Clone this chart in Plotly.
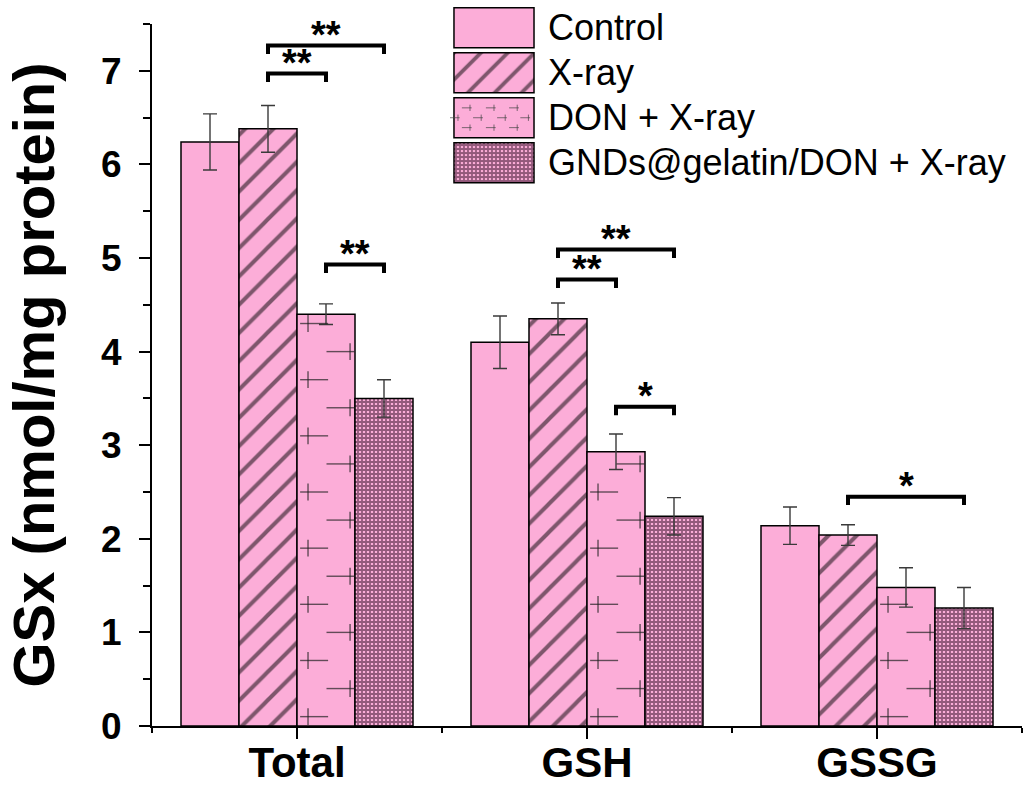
import plotly.graph_objects as go

# ---------------- data ----------------
categories = ["Total", "GSH", "GSSG"]
series_names = ["Control", "X-ray", "DON + X-ray", "GNDs@gelatin/DON + X-ray"]
control = [6.24, 4.10, 2.14]
control_err = [0.30, 0.28, 0.20]
xray = [6.38, 4.35, 2.04]
xray_err = [0.25, 0.17, 0.11]
don = [4.40, 2.93, 1.48]
don_err = [0.11, 0.19, 0.21]
gnds = [3.50, 2.24, 1.26]
gnds_err = [0.20, 0.20, 0.22]
y_ticks = [0, 1, 2, 3, 4, 5, 6, 7]
# significance: (category index, from series, to series, bracket level, label)
sig_brackets = [
    (0, 1, 3, 7.27, "**"), (0, 1, 2, 6.97, "**"), (0, 2, 3, 4.93, "**"),
    (1, 1, 3, 5.09, "**"), (1, 1, 2, 4.77, "**"), (1, 2, 3, 3.41, "*"),
    (2, 1, 3, 2.45, "*"),
]

values = [control, xray, don, gnds]
errors = [control_err, xray_err, don_err, gnds_err]

# ---------------- style ----------------
PINK = "#FCADD8"
DARK = "#2a061e"
FONT = "Arial, Liberation Sans, sans-serif"
BW = 0.2
patterns = [
    dict(shape="", fgcolor="black", bgcolor=PINK),
    dict(shape="/", size=20, solidity=0.2, fgcolor="black", bgcolor=PINK),
    dict(shape="", fgcolor="black", bgcolor=PINK),
    dict(shape="+", size=4, solidity=0.7, fgcolor=DARK, bgcolor=PINK),
]

def center(c, j):
    return c + (j - 1.5) * BW

fig = go.Figure()
xs = list(range(len(categories)))
for j, name in enumerate(series_names):
    fig.add_trace(go.Bar(
        x=xs, y=values[j], name=name, width=BW, offset=(j - 2) * BW,
        marker=dict(color=PINK, line=dict(color="black", width=1.5), pattern=patterns[j]),
        error_y=dict(type="data", array=errors[j], color="#3a3a3a", thickness=1.4, width=7),
        showlegend=False,
    ))

# cross decoration of the "DON + X-ray" bars (pattern not available natively)
cx, cy, cs, csize = [], [], [], []
for c, v in enumerate(don):
    bc = center(c, 2)
    k = 0
    while 0.1 + 0.3 * k <= v - 0.1:
        yy = 0.1 + 0.3 * k
        if k % 2 == 0:
            arm, tick = bc - 0.041, bc - 0.062
        else:
            arm, tick = bc + 0.050, bc + 0.083
        cx += [arm, tick]; cy += [yy, yy]
        cs += ["line-ew", "line-ns"]; csize += [20, 12]
        k += 1
fig.add_trace(go.Scatter(
    x=cx, y=cy, mode="markers", hoverinfo="skip", showlegend=False,
    marker=dict(symbol=cs, size=csize, color="#222", line=dict(color="#222", width=1.4)),
))

# significance brackets
DROP = 0.09
shapes, annotations = [], []
for c, a, b, lvl, lab in sig_brackets:
    x1, x2 = center(c, a), center(c, b)
    shapes.append(dict(type="path", xref="x", yref="y",
                       path=f"M{x1},{lvl - DROP} L{x1},{lvl} L{x2},{lvl} L{x2},{lvl - DROP}",
                       line=dict(color="black", width=4)))
    annotations.append(dict(x=(x1 + x2) / 2, y=lvl, xref="x", yref="y", text=lab,
                            showarrow=False, yanchor="bottom", yshift=-12,
                            font=dict(family=FONT, size=38, color="black", weight="bold")))

# ---------------- custom legend (swatches drawn as bars on a hidden subplot) ----------------
fig.add_trace(go.Bar(
    x=[1, 1, 1, 1], y=[0, 1, 2, 3], orientation="h", base=0, width=0.89,
    xaxis="x2", yaxis="y2", hoverinfo="skip", showlegend=False,
    marker=dict(color=PINK, line=dict(color="black", width=1.5),
                pattern=dict(shape=["", "/", "", "+"], size=[20, 19, 20, 4],
                             solidity=[0.1, 0.2, 0.1, 0.7],
                             fgcolor=["black", "black", "black", DARK], bgcolor=PINK)),
))
lx, ly, ls, lsz = [], [], [], []
for r, dy in enumerate([-0.22, 0.0, 0.22]):
    cols = [0.2, 0.5, 0.79] if r != 1 else [0.05, 0.34, 0.64, 0.93]
    for fx in cols:
        lx += [fx - 0.04, fx]; ly += [2 + dy, 2 + dy]
        ls += ["line-ew", "line-ns"]; lsz += [7, 4.5]
fig.add_trace(go.Scatter(
    x=lx, y=ly, mode="markers", xaxis="x2", yaxis="y2", hoverinfo="skip", showlegend=False,
    marker=dict(symbol=ls, size=lsz, color="#444", line=dict(color="#444", width=1)),
))
for i, name in enumerate(series_names):
    annotations.append(dict(x=(546 - 152) / 870, y=i, xref="paper", yref="y2", text=name,
                            showarrow=False, xanchor="left", yanchor="middle",
                            font=dict(family=FONT, size=36, color="black")))

fig.update_layout(
    width=1025, height=789,
    margin=dict(l=152, r=3, t=0, b=63, autoexpand=False),
    paper_bgcolor="white", plot_bgcolor="white",
    barmode="overlay",
    shapes=shapes, annotations=annotations,
    font=dict(family=FONT, color="black"),
    xaxis=dict(range=[-0.5, 2.5], tickvals=xs, ticktext=categories, automargin=False,
               ticks="outside", ticklen=11, tickwidth=2, tickcolor="black",
               showline=True, linewidth=2, linecolor="black", showgrid=False, zeroline=False,
               ticklabelstandoff=-12,
               tickfont=dict(family=FONT, size=42, color="black", weight="bold"),
               minor=dict(tickvals=[-0.5, 0.5, 1.5, 2.5], ticks="outside", ticklen=5,
                          tickwidth=2, tickcolor="black")),
    yaxis=dict(range=[0, 7.5], domain=[0, 702 / 726], tickvals=y_ticks, automargin=False,
               ticks="outside", ticklen=11, tickwidth=2, tickcolor="black",
               showline=True, linewidth=2, linecolor="black", showgrid=False, zeroline=False,
               ticklabelstandoff=10,
               tickfont=dict(family=FONT, size=37, color="black", weight="bold"),
               minor=dict(dtick=0.5, ticks="outside", ticklen=7, tickwidth=2, tickcolor="black"),
               title=dict(text="GSx (nmol/mg protein)", standoff=28,
                          font=dict(family=FONT, size=58, color="black", weight="bold"))),
    xaxis2=dict(domain=[0.3425, 0.4437], range=[-0.05, 1.05], visible=False,
                anchor="y2", fixedrange=True),
    yaxis2=dict(domain=[0.7418, 0.9958], range=[3.55, -0.55], visible=False,
                anchor="x2", fixedrange=True),
)

# remove the browser's default 8px page margin so the figure sits at the window origin
fig.write_html("out.html", config={"displayModeBar": False},
               post_script="document.body.style.margin='0';document.body.style.padding='0';")
